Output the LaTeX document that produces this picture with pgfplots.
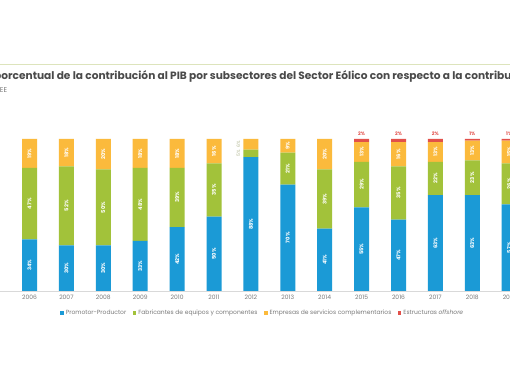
\documentclass[border=0pt]{standalone}
\usepackage{pgfplots}
\pgfplotsset{compat=1.18}
\usepackage{pgfplotstable}
\usepackage{fontspec}
\setmainfont{Poppins}
\definecolor{cblue}{HTML}{1B9AD6}
\definecolor{cgreen}{HTML}{A2C23A}
\definecolor{cyellow}{HTML}{FBBA3C}
\definecolor{cred}{HTML}{E2504A}
\definecolor{txtgray}{HTML}{7A7A7A}
\definecolor{titlegray}{HTML}{4A4A4A}
\definecolor{linegreen}{HTML}{DDE4BC}
\definecolor{smallgray}{HTML}{B0B58E}

% heights (p f e o) and printed labels (lp lf le lo)
\pgfplotstableread{
yr   p  f  e  o  lp lf le lo
2006 34 47 19 0  34 47 19 0
2007 30 52 18 0  30 52 18 0
2008 30 50 20 0  30 50 20 0
2009 33 48 19 0  33 48 18 0
2010 42 39 19 0  42 39 18 0
2011 49 35 16 0  50 35 16 0
2013 70 21 9  0  70 21 9  0
2014 41 39 20 0  41 39 20 0
2015 55 30 13 2  55 29 13 2
2016 47 35 16 2  47 35 16 2
2017 63 22 13 2  63 22 13 2
2018 63 23 13 1  63 23 13 1
2019 57 27 15 1  57 26 15 1
2012 88 5  7  0  88 5  6  0
}\data

\pgfplotsset{
 base/.style={at={(-44.3pt,91pt)}, anchor=south west, scale only axis, width=590.4pt, height=152pt,
   xmin=2004, xmax=2020, ymin=0, ymax=100, clip=false},
 inlbl/.style={only marks, mark=none, point meta=explicit symbolic,
   nodes near coords={\pgfplotspointmeta\%},
   every node near coord/.style={rotate=90, anchor=center, inner sep=0pt, text=white,
     font=\fontsize{5.2}{6}\selectfont\bfseries}},
 sqleg/.style={legend image code/.code={\fill[##1] (0pt,-1.8pt) rectangle (3.6pt,1.8pt);}},
}

\begin{document}
\begin{tikzpicture}
\path[use as bounding box] (0,0) rectangle (510pt,382pt);
\clip (0,0) rectangle (510pt,382pt);
\fill[white] (0,0) rectangle (510pt,382pt);
\draw[linegreen, line width=1pt] (0,317pt) -- (510pt,317pt);
\node[anchor=west, inner sep=0pt, font=\fontsize{10.6}{12}\selectfont\bfseries, text=titlegray] at (-6pt,306pt) {porcentual de la contribución al PIB por subsectores del Sector Eólico con respecto a la contribución total del sector};
\node[anchor=west, inner sep=0pt, font=\fontsize{7}{8}\selectfont, text=txtgray] at (-5pt,292pt) {AEE};
\begin{axis}[base, ybar stacked, bar width=15pt,
 axis x line*=bottom, axis y line=none, x axis line style={draw=black!15},
 xtick={2005,2006,2007,2008,2009,2010,2011,2012,2013,2014,2015,2016,2017,2018,2019},
 xticklabels={2005,2006,2007,2008,2009,2010,2011,2012,2013,2014,2015,2016,2017,2018,2019},
 ytick=\empty, major tick length=0pt,
 x tick label style={font=\fontsize{6}{7}\selectfont, text=txtgray, yshift=-1pt},
 legend columns=4,
 legend style={at={(0.52,-0.145)}, anchor=center, draw=none, fill=none, inner sep=0pt,
   font=\fontsize{6}{7}\selectfont, text=txtgray, /tikz/every even column/.append style={column sep=4.5pt}},
 legend cell align=left,
]
\addplot[fill=cblue, draw=none, sqleg] table[x=yr,y=p]{\data};
\addplot[fill=cgreen, draw=none, sqleg] table[x=yr,y=f]{\data};
\addplot[fill=cyellow, draw=none, sqleg] table[x=yr,y=e]{\data};
\addplot[fill=cred, draw=none, sqleg] table[x=yr,y=o]{\data};
\legend{Promotor-Productor, Fabricantes de equipos y componentes, Empresas de servicios complementarios, Estructuras \textit{offshore}}
\end{axis}
% value labels, placed at the middle of each segment
\begin{axis}[base, hide axis]
\addplot[inlbl] table[x=yr, y expr=\thisrow{p}/2, meta=lp]{\data};
\addplot[inlbl] table[x=yr, y expr=\thisrow{p}+\thisrow{f}/2, meta=lf, skip coords between index={13}{14}]{\data};
\addplot[inlbl] table[x=yr, y expr=\thisrow{p}+\thisrow{f}+\thisrow{e}/2, meta=le, skip coords between index={13}{14}]{\data};
% 2012: small segments labelled beside the bar
\addplot[inlbl, every node near coord/.append style={text=smallgray, yshift=12.5pt, font=\fontsize{4.6}{5}\selectfont}] table[x=yr, y expr=\thisrow{p}+\thisrow{f}/2, meta=lf, skip coords between index={0}{13}]{\data};
\addplot[inlbl, every node near coord/.append style={text=smallgray, yshift=12.5pt, font=\fontsize{4.6}{5}\selectfont}] table[x=yr, y expr=\thisrow{p}+\thisrow{f}+\thisrow{e}/2, meta=le, skip coords between index={0}{13}]{\data};
% offshore labels above the bars
\addplot[only marks, mark=none, point meta=explicit symbolic, nodes near coords={\pgfplotspointmeta\%},
  every node near coord/.style={anchor=south, inner sep=0pt, yshift=3pt, text=cred, font=\fontsize{4.8}{5}\selectfont\bfseries},
  skip coords between index={0}{8}, skip coords between index={13}{14}]
  table[x=yr, y expr=\thisrow{p}+\thisrow{f}+\thisrow{e}+\thisrow{o}, meta=lo]{\data};
\end{axis}
\end{tikzpicture}
\end{document}
